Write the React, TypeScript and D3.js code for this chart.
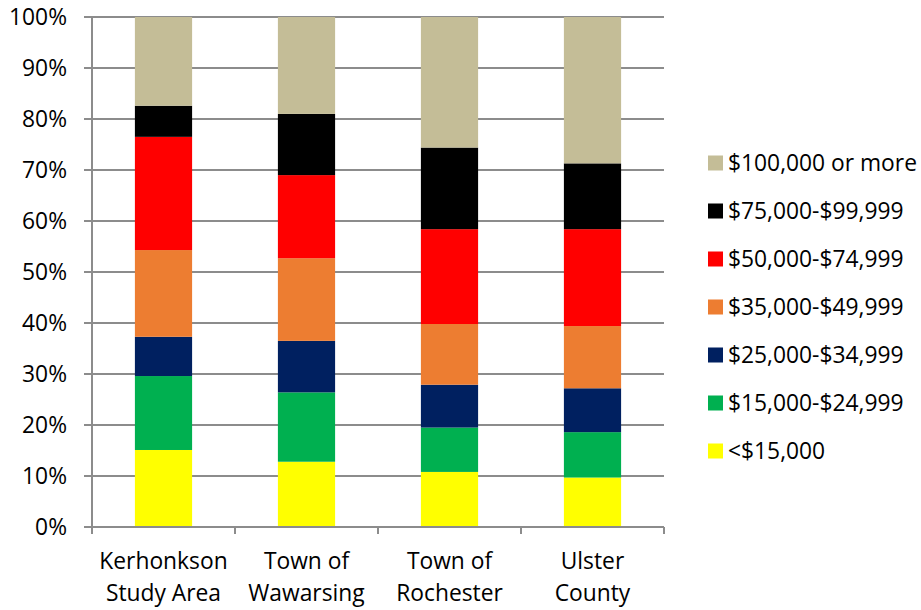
import { useEffect, useRef } from 'react';
import * as d3 from 'd3';

// categories along the x axis (two lines each)
const categories = [
  ['Kerhonkson', 'Study Area'],
  ['Town of', 'Wawarsing'],
  ['Town of', 'Rochester'],
  ['Ulster', 'County'],
];

// income brackets, bottom of the stack first
const brackets = [
  '<$15,000',
  '$15,000-$24,999',
  '$25,000-$34,999',
  '$35,000-$49,999',
  '$50,000-$74,999',
  '$75,000-$99,999',
  '$100,000 or more',
];

const bracketColors = ['#FFFF00', '#00B050', '#002060', '#ED7D31', '#FF0000', '#000000', '#C4BD97'];

// share of households (%) per bracket, one value per category
const under15k = [15.1, 12.8, 10.8, 9.7];
const k15to25 = [14.5, 13.6, 8.7, 8.9];
const k25to35 = [7.7, 10.1, 8.4, 8.6];
const k35to50 = [17.0, 16.2, 11.9, 12.2];
const k50to75 = [22.2, 16.3, 18.6, 19.0];
const k75to100 = [6.1, 12.0, 16.0, 12.9];
const over100k = [17.4, 19.0, 25.6, 28.7];

const yTicks = [0, 10, 20, 30, 40, 50, 60, 70, 80, 90, 100];

const FONT = '"Open Sans", sans-serif';
const FS = 22.8;

const buildChart = (el: SVGSVGElement) => {
  const svg = d3.select(el);
  svg.selectAll('*').remove();

  const series = [under15k, k15to25, k25to35, k35to50, k50to75, k75to100, over100k];
  const rows = categories.map((c, i) => {
    const r: any = { key: i };
    brackets.forEach((b, j) => (r[b] = series[j][i]));
    return r;
  });
  const stacked = d3.stack().keys(brackets)(rows);

  const left = 92, right = 664, top = 17, bottom = 527;

  const x = d3.scaleBand<number>()
    .domain(categories.map((_, i) => i))
    .range([left, right])
    .paddingInner(0.6)
    .paddingOuter(0.3);

  const y = d3.scaleLinear().domain([0, 100]).range([bottom, top]);

  const grid = '#8c8c8c';

  // gridlines
  svg.append('g')
    .selectAll('line')
    .data(yTicks)
    .enter()
    .append('line')
    .attr('x1', left - 8)
    .attr('x2', right)
    .attr('y1', (d) => y(d))
    .attr('y2', (d) => y(d))
    .attr('stroke', grid)
    .attr('stroke-width', 2);

  // y tick labels
  svg.append('g')
    .selectAll('text')
    .data(yTicks)
    .enter()
    .append('text')
    .attr('x', 67)
    .attr('y', (d) => y(d))
    .attr('dy', '0.36em')
    .attr('text-anchor', 'end')
    .attr('font-family', FONT)
    .attr('font-size', FS)
    .attr('fill', '#000')
    .text((d) => d + '%');

  // bars
  svg.append('g')
    .selectAll('g')
    .data(stacked)
    .enter()
    .append('g')
    .attr('fill', (_, i) => bracketColors[i])
    .selectAll('rect')
    .data((d) => d)
    .enter()
    .append('rect')
    .attr('x', (d: any) => x(d.data.key) as number)
    .attr('width', x.bandwidth())
    .attr('y', (d) => y(d[1]))
    .attr('height', (d) => y(d[0]) - y(d[1]));

  // axes
  svg.append('line')
    .attr('x1', left).attr('x2', left)
    .attr('y1', top).attr('y2', bottom)
    .attr('stroke', grid).attr('stroke-width', 2);
  svg.append('line')
    .attr('x1', left - 8).attr('x2', right)
    .attr('y1', bottom).attr('y2', bottom)
    .attr('stroke', grid).attr('stroke-width', 2);

  const step = (right - left) / categories.length;
  const catTicks = d3.range(categories.length + 1).map((i) => left + i * step);
  svg.append('g')
    .selectAll('line')
    .data(catTicks)
    .enter()
    .append('line')
    .attr('x1', (d) => d).attr('x2', (d) => d)
    .attr('y1', bottom).attr('y2', bottom + 7)
    .attr('stroke', grid).attr('stroke-width', 2);

  // category labels
  const labels = svg.append('g')
    .selectAll('text')
    .data(categories)
    .enter()
    .append('text')
    .attr('text-anchor', 'middle')
    .attr('font-family', FONT)
    .attr('font-size', FS)
    .attr('fill', '#000');
  labels.each(function (d, i) {
    const t = d3.select(this);
    const cx = (x(i) as number) + x.bandwidth() / 2;
    d.forEach((line, k) => {
      t.append('tspan')
        .attr('x', cx)
        .attr('y', 569 + k * 31.5)
        .text(line);
    });
  });

  // legend, top entry = top of stack
  const legendItems = brackets.map((b, i) => ({ b, c: bracketColors[i] })).reverse();
  const lg = svg.append('g')
    .selectAll('g')
    .data(legendItems)
    .enter()
    .append('g')
    .attr('transform', (_, i) => `translate(708, ${163 + i * 48})`);
  lg.append('rect')
    .attr('x', 0).attr('y', -7.5)
    .attr('width', 15).attr('height', 15)
    .attr('fill', (d) => d.c);
  lg.append('text')
    .attr('x', 20)
    .attr('dy', '0.36em')
    .attr('font-family', FONT)
    .attr('font-size', FS)
    .attr('fill', '#000')
    .text((d) => d.b);
};

const App = () => {
  const ref = useRef<SVGSVGElement>(null);

  useEffect(() => {
    if (ref.current) buildChart(ref.current);
  }, []);

  return (
    <svg
      ref={ref}
      width={921}
      height={610}
      style={{ position: 'absolute', left: 0, top: 0, background: '#fff' }}
    />
  );
};

export default App;
